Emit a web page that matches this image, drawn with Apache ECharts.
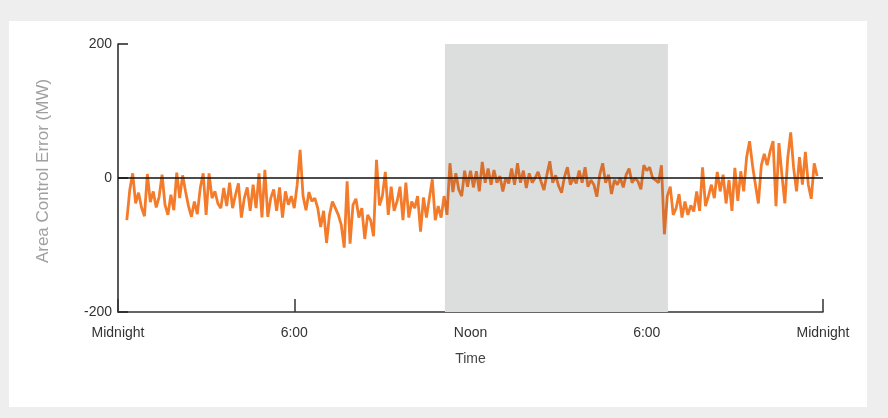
<!DOCTYPE html>
<html>
<head>
<meta charset="utf-8">
<script src="https://cdn.jsdelivr.net/npm/echarts@6/dist/echarts.min.js"></script>
<style>
html,body{margin:0;padding:0;background:#fff;}
#chart{width:888px;height:418px;}
</style>
</head>
<body>
<div id="chart"></div>
<script>
// Sampling: first sample at 0.3 h, one sample every 0.1 h (6 minutes)
const startHour = 0.3;
const stepHour = 0.1;

// Area Control Error (MW)
const aceValues = [
  -63,-18,7,-38,-22,-44,-57,6,-36,-20,
  -44,-28,5,-40,-55,-25,-48,8,-30,4,
  -20,-42,-58,-35,-54,-15,7,-55,7,-30,
  -20,-38,-45,-15,-42,-7,-45,-25,-8,-59,
  -30,-14,-49,-10,-45,7,-59,12,-58,-30,
  -17,-49,-14,-59,-20,-40,-27,-45,-10,42,
  -27,-48,-21,-35,-30,-45,-73,-49,-97,-55,
  -35,-45,-55,-70,-104,-5,-98,-40,-31,-59,
  -45,-91,-55,-63,-87,27,-41,-27,9,-55,
  -13,-49,-35,-13,-63,-7,-59,-35,-45,-27,
  -80,-29,-59,-30,-2,-63,-42,-59,-27,-55,
  22,-21,7,-17,-27,11,-13,11,-14,10,
  -20,24,-7,14,-10,12,-7,3,-20,0,
  -8,14,-10,22,-7,11,-15,7,-7,0,
  9,-5,-18,5,25,-7,4,-12,-22,2,
  16,-10,0,-8,11,-7,16,-13,-3,-10,
  -28,5,22,-7,5,-24,-3,-10,0,-14,
  5,14,-7,0,-5,-17,19,11,16,0,
  -3,-7,19,-84,-27,-13,-55,-45,-24,-59,
  -35,-55,-41,-50,-20,-49,16,-42,-27,-10,
  -30,9,-20,5,-38,-3,-49,15,-34,10,
  -20,31,55,19,-10,-38,19,36,19,40,
  55,-42,52,5,-38,30,68,15,-20,31,
  -10,39,-10,-31,22,3
];

// Shaded period (hours)
const shadeStart = 11.13;
const shadeEnd = 18.72;

// Axis ticks / labels
const xTicks = [0, 6, 12, 18, 24];
const xTickLabels = ['Midnight', '6:00', 'Noon', '6:00', 'Midnight'];
const yTicks = [-200, 0, 200];

const seriesData = aceValues.map((v, i) => [+(startHour + i * stepHour).toFixed(2), v]);

const chart = echarts.init(document.getElementById('chart'), null, {renderer: 'canvas'});
const font = 'Liberation Sans, Arial, sans-serif';

chart.setOption({
  animation: false,
  backgroundColor: '#ffffff',
  graphic: [
    {type: 'rect', z: -20, shape: {x: 0, y: 0, width: 888, height: 418}, style: {fill: '#eeeeee'}},
    {type: 'rect', z: -19, shape: {x: 9, y: 21, width: 858, height: 386}, style: {fill: '#ffffff'}}
  ],
  grid: {left: 118, right: 65, top: 44, bottom: 106, containLabel: false},
  visualMap: {
    show: false, type: 'piecewise', seriesIndex: 0, dimension: 0,
    pieces: [
      {lt: shadeStart, color: '#f47b2a'},
      {gte: shadeStart, lte: shadeEnd, color: '#d8702f'},
      {gt: shadeEnd, color: '#f47b2a'}
    ]
  },
  xAxis: {
    type: 'value', min: xTicks[0], max: xTicks[xTicks.length - 1], interval: 6,
    name: 'Time', nameLocation: 'middle', nameGap: 40,
    nameTextStyle: {fontFamily: font, fontSize: 14, color: '#444'},
    axisLine: {show: true, onZero: false, lineStyle: {color: '#333', width: 1.5}},
    axisTick: {show: true, inside: true, length: 13, lineStyle: {color: '#333', width: 1.5}},
    axisLabel: {
      margin: 14, fontFamily: font, fontSize: 14, color: '#333',
      formatter: v => { const k = xTicks.indexOf(v); return k >= 0 ? xTickLabels[k] : ''; }
    },
    splitLine: {show: false}
  },
  yAxis: {
    type: 'value', min: yTicks[0], max: yTicks[yTicks.length - 1], interval: 200,
    name: 'Area Control Error (MW)', nameLocation: 'middle', nameGap: 66, nameRotate: 90,
    nameTextStyle: {fontFamily: font, fontSize: 17, color: '#a0a0a0', padding: [0, 0, 0, 14]},
    axisLine: {show: true, onZero: false, lineStyle: {color: '#222', width: 1.5}},
    axisTick: {show: true, inside: true, length: 10, lineStyle: {color: '#222', width: 1.5}},
    axisLabel: {margin: 6, fontFamily: font, fontSize: 14, color: '#333'},
    splitLine: {show: false}
  },
  series: [
    {
      name: 'ACE', type: 'line', z: 3, data: seriesData, showSymbol: false, symbol: 'none',
      lineStyle: {width: 2.8, join: 'bevel'}
    },
    {
      name: 'shade', type: 'line', z: -1, data: [], silent: true,
      markArea: {
        silent: true,
        itemStyle: {color: '#dcdedd'},
        data: [[{xAxis: shadeStart}, {xAxis: shadeEnd}]]
      }
    },
    {
      name: 'zero', type: 'line', z: 4, data: [], silent: true,
      markLine: {
        silent: true, symbol: ['none', 'none'], label: {show: false},
        lineStyle: {color: '#111', width: 1.5, type: 'solid'},
        data: [[{coord: [xTicks[0], 0]}, {coord: [xTicks[xTicks.length - 1], 0]}]]
      }
    }
  ]
});
</script>
</body>
</html>
